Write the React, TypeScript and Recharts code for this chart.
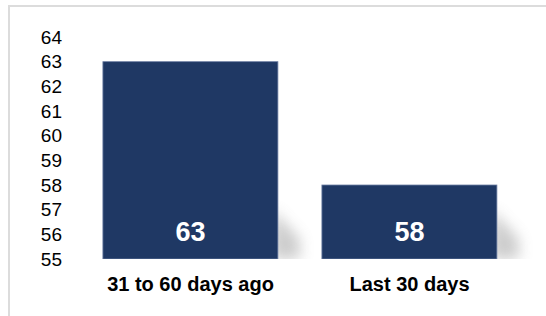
import React from 'react';
import { BarChart, Bar, XAxis, YAxis, LabelList } from 'recharts';

const categories = ['31 to 60 days ago', 'Last 30 days'];
const values = [63, 58];
const yTicks = [55, 56, 57, 58, 59, 60, 61, 62, 63, 64];

const data = categories.map((name, i) => ({ name, value: values[i] }));

const NAVY = '#1f3864';

// bar with a soft perspective shadow at its lower right corner
const ShadowBar = (props: any) => {
  const { x, y, width, height } = props;
  const bottom = y + height;
  const right = x + width;
  const pts = [
    [right - 6, bottom - 50],
    [right + 22, bottom - 20],
    [right + 22, bottom],
    [right - 6, bottom],
  ]
    .map((p) => p.join(','))
    .join(' ');
  return (
    <g>
      <polygon points={pts} fill="#909090" opacity={0.45} filter="url(#barShadow)" />
      <rect x={x} y={y} width={width} height={height} fill={NAVY} stroke="#6d7fa3" strokeWidth={0.8} />
    </g>
  );
};

const InsideLabel = (props: any) => {
  const { x, y, width, height, value } = props;
  return (
    <text
      x={x + width / 2}
      y={y + height - 27}
      textAnchor="middle"
      dominantBaseline="central"
      fill="#ffffff"
      fontSize={27}
      fontWeight="bold"
      fontFamily="Liberation Sans, Arial, sans-serif"
    >
      {value}
    </text>
  );
};

export default function App() {
  return (
    <div style={{ position: 'fixed', left: 0, top: 0, width: 546, height: 316, overflow: 'hidden', background: '#fff' }}>
      <div
        style={{
          position: 'absolute',
          left: 8,
          top: 5,
          width: 600,
          height: 400,
          border: '2px solid #dcdcdc',
        }}
      />
      <div style={{ position: 'absolute', left: 0, top: 0 }}>
        <BarChart
          width={546}
          height={316}
          data={data}
          margin={{ top: 37, right: 27, bottom: 27, left: 0 }}
          barCategoryGap="10%"
        >
          <defs>
            <filter id="barShadow" x="-50%" y="-50%" width="200%" height="200%">
              <feGaussianBlur stdDeviation="7" />
            </filter>
          </defs>
          <XAxis
            dataKey="name"
            height={30}
            axisLine={false}
            tickLine={false}
            interval={0}
            tick={{ fill: '#000', fontSize: 20, fontWeight: 'bold', fontFamily: 'Liberation Sans, Arial, sans-serif' }}
            tickMargin={12}
          />
          <YAxis
            width={81}
            domain={[55, 64]}
            ticks={yTicks}
            interval={0}
            axisLine={false}
            tickLine={false}
            allowDataOverflow
            tick={{ fill: '#000', fontSize: 19, fontFamily: 'Liberation Sans, Arial, sans-serif', dx: -11 }}
          />
          <Bar dataKey="value" shape={ShadowBar} isAnimationActive={false}>
            <LabelList dataKey="value" content={InsideLabel} />
          </Bar>
        </BarChart>
      </div>
    </div>
  );
}
